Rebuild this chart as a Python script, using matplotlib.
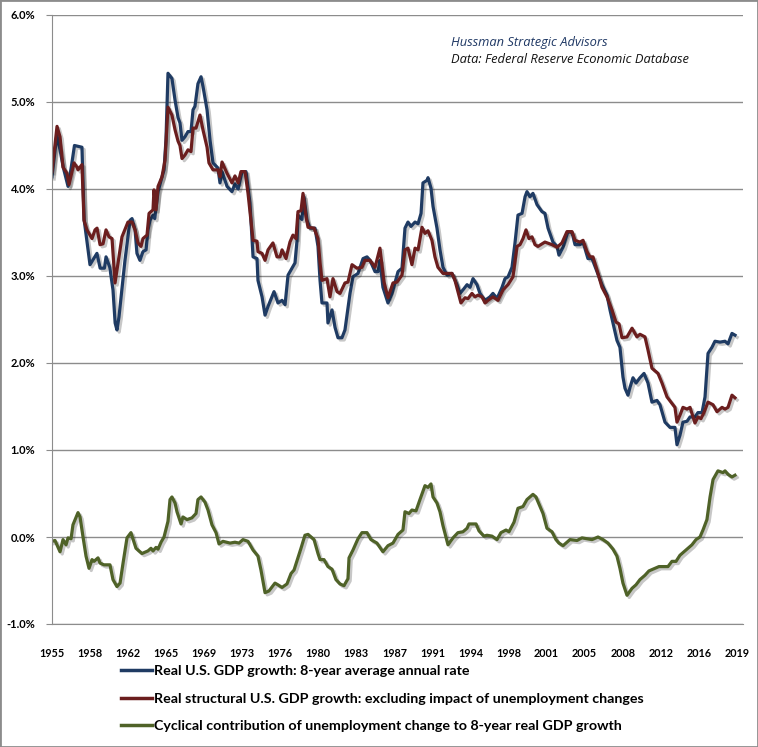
import numpy as np
import matplotlib
matplotlib.use("Agg")
import matplotlib.pyplot as plt
import matplotlib.patheffects as pe
from matplotlib.patches import Rectangle
from matplotlib.ticker import FuncFormatter

# Real U.S. GDP growth: 8-year average annual rate (%)
blue_years = [1955.00, 1955.45, 1955.75, 1956.05, 1956.50, 1956.80, 1957.10, 1957.80, 1958.00, 1958.55,
              1959.20, 1959.50, 1959.90, 1960.05, 1960.40, 1960.70, 1960.90, 1961.07, 1961.26, 1961.82,
              1962.29, 1962.48, 1962.76, 1962.94, 1963.22, 1963.50, 1963.79, 1963.97, 1964.16, 1964.44,
              1964.60, 1964.81, 1964.91, 1965.28, 1965.47, 1965.65, 1965.84, 1966.21, 1966.50, 1966.78,
              1966.96, 1967.15, 1967.43, 1967.71, 1967.99, 1968.18, 1968.36, 1968.64, 1968.93, 1969.11,
              1969.49, 1969.77, 1970.05, 1970.51, 1970.70, 1970.89, 1971.36, 1971.82, 1972.10, 1972.40,
              1972.76, 1973.13, 1973.50, 1973.79, 1974.16, 1974.25, 1974.63, 1974.91, 1975.19, 1975.75,
              1976.12, 1976.50, 1976.78, 1977.06, 1977.43, 1977.71, 1977.90, 1977.99, 1978.36, 1978.55,
              1978.83, 1979.11, 1979.58, 1979.86, 1980.05, 1980.23, 1980.70, 1980.79, 1981.17, 1981.45,
              1981.73, 1982.10, 1982.38, 1982.85, 1983.13, 1983.60, 1984.07, 1984.44, 1984.72, 1985.19,
              1985.47, 1985.65, 1985.93, 1986.40, 1986.78, 1987.34, 1987.71, 1987.99, 1988.27, 1988.55,
              1988.93, 1989.21, 1989.49, 1989.67, 1990.05, 1990.14, 1990.42, 1990.61, 1990.98, 1991.26,
              1991.54, 1991.92, 1992.38, 1992.85, 1993.13, 1993.41, 1993.79, 1994.07, 1994.35, 1994.72,
              1995.00, 1995.47, 1995.93, 1996.21, 1996.59, 1997.06, 1997.34, 1997.62, 1997.99, 1998.27,
              1998.55, 1998.93, 1999.21, 1999.39, 1999.67, 1999.95, 2000.33, 2000.79, 2001.07, 2001.36,
              2001.82, 2002.20, 2002.38, 2002.76, 2003.22, 2003.60, 2003.88, 2004.35, 2004.63, 2005.09,
              2005.47, 2005.93, 2006.40, 2006.87, 2007.15, 2007.43, 2007.80, 2008.08, 2008.36, 2008.55,
              2008.83, 2009.02, 2009.30, 2009.58, 2009.95, 2010.33, 2010.70, 2011.07, 2011.54, 2011.82,
              2012.29, 2012.76, 2013.22, 2013.41, 2013.69, 2013.97, 2014.35, 2014.63, 2015.09, 2015.37,
              2015.75, 2016.03, 2016.31, 2016.68, 2016.96, 2017.43, 2017.90, 2018.18, 2018.55, 2018.83]
blue_vals = [4.14, 4.62, 4.45, 4.25, 4.03, 4.25, 4.50, 4.48, 3.65, 3.13,
             3.26, 3.09, 3.09, 3.22, 3.10, 2.84, 2.46, 2.38, 2.53, 3.18,
             3.64, 3.66, 3.53, 3.26, 3.18, 3.28, 3.30, 3.53, 3.64, 3.70,
             3.66, 3.87, 3.97, 4.14, 4.22, 4.56, 5.33, 5.27, 5.02, 4.82,
             4.76, 4.56, 4.60, 4.66, 4.66, 4.91, 4.95, 5.21, 5.29, 5.18,
             4.91, 4.56, 4.30, 4.24, 4.07, 4.20, 4.03, 3.97, 4.06, 4.00,
             4.20, 4.20, 3.84, 3.22, 3.20, 2.95, 2.76, 2.55, 2.65, 2.82,
             2.69, 2.72, 2.67, 3.01, 3.09, 3.15, 3.41, 3.70, 3.65, 3.91,
             3.64, 3.55, 3.55, 3.34, 2.95, 2.69, 2.69, 2.46, 2.61, 2.41,
             2.29, 2.29, 2.38, 2.80, 2.99, 3.03, 3.20, 3.22, 3.18, 3.05,
             3.05, 3.18, 2.87, 2.69, 2.80, 3.05, 3.09, 3.55, 3.62, 3.57,
             3.62, 3.60, 3.72, 4.07, 4.10, 4.13, 4.01, 3.80, 3.55, 3.30,
             3.10, 3.01, 3.03, 2.90, 2.80, 2.84, 2.90, 2.87, 2.97, 2.90,
             2.80, 2.72, 2.76, 2.80, 2.74, 2.87, 2.97, 2.99, 3.10, 3.38,
             3.70, 3.72, 3.91, 3.97, 3.91, 3.95, 3.82, 3.74, 3.72, 3.55,
             3.39, 3.34, 3.24, 3.33, 3.51, 3.50, 3.36, 3.36, 3.39, 3.20,
             3.20, 3.05, 2.90, 2.78, 2.61, 2.46, 2.26, 2.18, 1.84, 1.71,
             1.63, 1.72, 1.83, 1.77, 1.83, 1.88, 1.77, 1.55, 1.57, 1.52,
             1.32, 1.26, 1.26, 1.06, 1.17, 1.32, 1.33, 1.38, 1.38, 1.43,
             1.43, 1.61, 2.11, 2.18, 2.25, 2.24, 2.25, 2.22, 2.34, 2.32]

# Real structural U.S. GDP growth (%)
red_years = [1955.00, 1955.47, 1955.75, 1956.03, 1956.40, 1956.59, 1957.06, 1957.34, 1957.43, 1957.80,
             1957.99, 1958.27, 1958.74, 1959.02, 1959.21, 1959.49, 1959.77, 1960.05, 1960.33, 1960.61,
             1960.89, 1961.17, 1961.54, 1962.10, 1962.48, 1962.76, 1963.04, 1963.32, 1963.50, 1963.88,
             1964.07, 1964.44, 1964.53, 1964.72, 1964.91, 1965.28, 1965.56, 1965.84, 1966.21, 1966.50,
             1966.78, 1966.96, 1967.15, 1967.43, 1967.71, 1967.99, 1968.18, 1968.46, 1968.83, 1969.11,
             1969.49, 1969.67, 1970.05, 1970.51, 1970.70, 1970.89, 1971.36, 1971.82, 1972.10, 1972.40,
             1972.66, 1973.04, 1973.32, 1973.79, 1974.16, 1974.25, 1974.63, 1974.91, 1975.19, 1975.65,
             1976.03, 1976.31, 1976.50, 1976.87, 1977.24, 1977.52, 1977.80, 1977.99, 1978.27, 1978.46,
             1978.74, 1978.93, 1979.49, 1979.86, 1980.05, 1980.23, 1980.70, 1980.98, 1981.26, 1981.64,
             1981.92, 1982.38, 1982.66, 1983.04, 1983.50, 1983.97, 1984.25, 1984.72, 1985.19, 1985.65,
             1986.03, 1986.40, 1986.87, 1987.24, 1987.71, 1987.99, 1988.27, 1988.64, 1988.93, 1989.21,
             1989.58, 1989.86, 1990.14, 1990.51, 1990.79, 1991.07, 1991.54, 1991.92, 1992.38, 1992.66,
             1992.94, 1993.22, 1993.60, 1993.88, 1994.25, 1994.53, 1994.81, 1995.19, 1995.47, 1995.75,
             1996.21, 1996.68, 1997.15, 1997.62, 1998.08, 1998.46, 1998.74, 1999.02, 1999.30, 1999.58,
             1999.86, 2000.14, 2000.42, 2001.07, 2001.73, 2002.20, 2002.66, 2003.13, 2003.60, 2003.88,
             2004.35, 2004.63, 2005.00, 2005.28, 2005.56, 2005.93, 2006.40, 2006.87, 2007.34, 2007.71,
             2007.99, 2008.27, 2008.74, 2009.21, 2009.67, 2009.95, 2010.42, 2010.70, 2011.07, 2011.64,
             2012.01, 2012.48, 2013.22, 2013.41, 2013.69, 2013.97, 2014.35, 2014.63, 2015.09, 2015.37,
             2015.65, 2015.93, 2016.31, 2016.78, 2017.15, 2017.62, 2017.90, 2018.18, 2018.55, 2018.83]
red_vals = [4.20, 4.72, 4.60, 4.25, 4.18, 4.05, 4.30, 4.25, 4.22, 4.28,
            3.64, 3.53, 3.43, 3.53, 3.55, 3.36, 3.37, 3.53, 3.45, 3.43,
            2.92, 3.15, 3.45, 3.62, 3.62, 3.53, 3.38, 3.34, 3.43, 3.47,
            3.72, 3.76, 3.99, 3.76, 4.03, 4.14, 4.33, 4.94, 4.85, 4.68,
            4.55, 4.50, 4.35, 4.39, 4.45, 4.43, 4.70, 4.70, 4.85, 4.68,
            4.48, 4.30, 4.22, 4.22, 4.14, 4.31, 4.18, 4.07, 4.15, 4.07,
            4.20, 4.20, 3.95, 3.41, 3.40, 3.28, 3.26, 3.18, 3.30, 3.38,
            3.22, 3.22, 3.30, 3.20, 3.39, 3.47, 3.43, 3.74, 3.75, 3.95,
            3.68, 3.56, 3.55, 3.43, 3.15, 2.95, 2.97, 2.76, 2.97, 2.82,
            2.80, 2.92, 2.93, 3.13, 3.09, 3.10, 3.18, 3.18, 3.10, 3.32,
            2.93, 2.75, 2.92, 2.93, 3.01, 3.30, 3.32, 3.13, 3.32, 3.30,
            3.56, 3.49, 3.52, 3.41, 3.22, 3.10, 3.03, 3.03, 3.03, 2.95,
            2.82, 2.69, 2.75, 2.74, 2.80, 2.76, 2.78, 2.76, 2.69, 2.72,
            2.76, 2.72, 2.84, 2.90, 2.99, 3.34, 3.36, 3.43, 3.53, 3.43,
            3.45, 3.36, 3.34, 3.39, 3.36, 3.33, 3.38, 3.51, 3.51, 3.41,
            3.39, 3.41, 3.28, 3.22, 3.22, 3.07, 2.87, 2.76, 2.61, 2.47,
            2.45, 2.29, 2.30, 2.40, 2.30, 2.33, 2.30, 2.15, 1.94, 1.88,
            1.77, 1.61, 1.49, 1.32, 1.40, 1.49, 1.47, 1.49, 1.31, 1.38,
            1.36, 1.43, 1.55, 1.52, 1.44, 1.49, 1.47, 1.49, 1.63, 1.60]

# Cyclical contribution of unemployment change (%)
green_years = [1955.00, 1955.28, 1955.75, 1956.03, 1956.31, 1956.50, 1956.78, 1956.96, 1957.43, 1957.62,
               1957.90, 1958.18, 1958.46, 1958.74, 1958.93, 1959.30, 1959.49, 1959.86, 1960.42, 1960.70,
               1961.07, 1961.36, 1961.64, 1962.01, 1962.38, 1962.85, 1963.41, 1963.97, 1964.25, 1964.44,
               1964.72, 1964.91, 1965.19, 1965.47, 1965.84, 1966.03, 1966.21, 1966.50, 1966.68, 1967.06,
               1967.24, 1967.62, 1968.08, 1968.46, 1968.64, 1968.93, 1969.30, 1969.58, 1969.95, 1970.33,
               1970.61, 1970.98, 1971.64, 1972.10, 1972.48, 1972.85, 1973.32, 1973.79, 1974.25, 1974.53,
               1974.91, 1975.28, 1975.84, 1976.12, 1976.50, 1976.96, 1977.34, 1977.62, 1977.99, 1978.27,
               1978.64, 1978.93, 1979.49, 1979.86, 1980.05, 1980.42, 1980.79, 1981.17, 1981.54, 1981.92,
               1982.29, 1982.66, 1982.76, 1983.13, 1983.60, 1983.97, 1984.44, 1984.81, 1985.37, 1985.93,
               1986.40, 1986.87, 1987.34, 1987.80, 1987.99, 1988.36, 1988.64, 1989.02, 1989.39, 1989.86,
               1990.14, 1990.42, 1990.61, 1990.98, 1991.26, 1991.54, 1991.82, 1992.01, 1992.48, 1992.94,
               1993.41, 1993.79, 1993.97, 1994.63, 1994.91, 1995.37, 1995.65, 1996.12, 1996.59, 1996.96,
               1997.43, 1997.71, 1998.18, 1998.55, 1999.02, 1999.39, 1999.95, 2000.23, 2000.61, 2000.89,
               2001.26, 2001.73, 2002.10, 2002.38, 2002.76, 2003.41, 2004.07, 2004.53, 2005.00, 2005.47,
               2006.03, 2006.50, 2006.96, 2007.43, 2007.80, 2008.08, 2008.36, 2008.74, 2009.21, 2009.58,
               2009.95, 2010.42, 2010.79, 2011.36, 2011.73, 2012.10, 2012.57, 2012.94, 2013.32, 2013.69,
               2014.35, 2014.81, 2015.19, 2015.56, 2015.84, 2016.21, 2016.50, 2016.78, 2017.24, 2017.71,
               2017.90, 2018.18, 2018.55, 2018.83]
green_vals = [-0.05, -0.04, -0.17, -0.03, -0.09, -0.01, -0.02, 0.14, 0.28, 0.23,
              0.00, -0.22, -0.36, -0.26, -0.28, -0.24, -0.30, -0.32, -0.32, -0.49,
              -0.57, -0.53, -0.30, -0.01, 0.05, -0.13, -0.19, -0.16, -0.13, -0.16,
              -0.12, -0.14, -0.06, 0.00, 0.18, 0.43, 0.46, 0.39, 0.29, 0.15,
              0.23, 0.20, 0.22, 0.27, 0.43, 0.46, 0.40, 0.31, 0.14, 0.05,
              -0.08, -0.05, -0.07, -0.06, -0.07, -0.03, -0.05, -0.15, -0.22, -0.38,
              -0.64, -0.62, -0.53, -0.55, -0.58, -0.54, -0.42, -0.38, -0.24, -0.13,
              0.02, 0.03, -0.03, -0.19, -0.26, -0.26, -0.34, -0.37, -0.49, -0.54,
              -0.56, -0.48, -0.24, -0.15, -0.02, 0.05, 0.05, -0.03, -0.07, -0.17,
              -0.10, -0.07, 0.03, 0.08, 0.29, 0.27, 0.31, 0.30, 0.43, 0.59,
              0.57, 0.61, 0.46, 0.39, 0.29, 0.13, 0.00, -0.09, -0.01, 0.05,
              0.06, 0.10, 0.15, 0.15, 0.07, 0.01, 0.02, 0.01, -0.03, 0.05,
              0.08, 0.06, 0.17, 0.33, 0.35, 0.43, 0.49, 0.46, 0.35, 0.27,
              0.10, 0.06, -0.03, -0.07, -0.10, -0.03, -0.04, -0.01, -0.02, -0.03,
              0.00, -0.03, -0.07, -0.14, -0.22, -0.36, -0.53, -0.67, -0.59, -0.55,
              -0.49, -0.44, -0.39, -0.36, -0.34, -0.34, -0.34, -0.28, -0.28, -0.21,
              -0.14, -0.09, -0.03, 0.00, 0.08, 0.20, 0.46, 0.66, 0.76, 0.74,
              0.76, 0.72, 0.69, 0.71]

tick_labels = ["1955", "1958", "1962", "1965", "1969", "1973", "1976", "1980", "1983", "1987",
               "1991", "1994", "1998", "2001", "2005", "2008", "2012", "2016", "2019"]

labels = ["Real U.S. GDP growth: 8-year average annual rate",
          "Real structural U.S. GDP growth: excluding impact of unemployment changes",
          "Cyclical contribution of unemployment change to 8-year real GDP growth"]
colors = ["#1F3B63", "#6B1E1E", "#4F6228"]

plt.rcParams["font.family"] = ["Lato", "DejaVu Sans"]

fig = plt.figure(figsize=(7.58, 7.47), dpi=100)
ax = fig.add_axes([52 / 758, 1 - 624 / 747, (743 - 52) / 758, (624 - 15) / 747])

shadow = [pe.SimpleLineShadow(offset=(1.6, -1.6), shadow_color="black", alpha=0.22), pe.Normal()]
series = [(blue_years, blue_vals), (red_years, red_vals), (green_years, green_vals)]
for (xs, ys), col, lab in zip(series, colors, labels):
    ax.plot(xs, ys, color=col, lw=2.3, label=lab, path_effects=shadow, solid_joinstyle="round")

ax.set_xlim(1955, 2019.58)
ax.set_ylim(-1.0, 6.0)
ax.set_yticks(np.arange(-1, 6.5, 1))
ax.yaxis.set_major_formatter(FuncFormatter(lambda v, p: f"{v:.1f}%"))
ax.set_xticks(np.linspace(1955, 2019, len(tick_labels)))
ax.set_xticklabels(tick_labels)
ax.grid(axis="y", color="#8C8C8C", lw=1.0)
ax.set_axisbelow(True)
for s in ["top", "right"]:
    ax.spines[s].set_visible(False)
ax.spines["left"].set_color("#8C8C8C")
ax.spines["bottom"].set_color("#8C8C8C")
ax.tick_params(axis="y", length=4, color="#8C8C8C", pad=8, labelsize=8)
ax.tick_params(axis="x", length=0, pad=17, labelsize=7.8)
for t in ax.get_xticklabels() + ax.get_yticklabels():
    t.set_fontweight("bold")

ax.text(0.577, 0.965, "Hussman Strategic Advisors", transform=ax.transAxes,
        fontsize=9.3, style="italic", color="#1F3864", va="top", family=["Open Sans", "DejaVu Sans"])
ax.text(0.577, 0.937, "Data: Federal Reserve Economic Database", transform=ax.transAxes,
        fontsize=9.3, style="italic", color="#111111", va="top", family=["Open Sans", "DejaVu Sans"])

handles = ax.get_lines()
leg = fig.legend(handles, labels, loc="upper left", bbox_to_anchor=(108 / 758, 1 - 652 / 747),
                 frameon=False, handlelength=2.2, handletextpad=0.15, labelspacing=1.1,
                 prop={"size": 10.3, "weight": "bold", "family": ["Lato", "DejaVu Sans"]})
for h in leg.legend_handles:
    h.set_path_effects([])
    h.set_linewidth(2.5)

fig.patches.append(Rectangle((0.0, 0.0), 1.0, 1.0, transform=fig.transFigure,
                             fill=False, edgecolor="#8C8C8C", lw=2))

fig.savefig("out.png", dpi=100)
